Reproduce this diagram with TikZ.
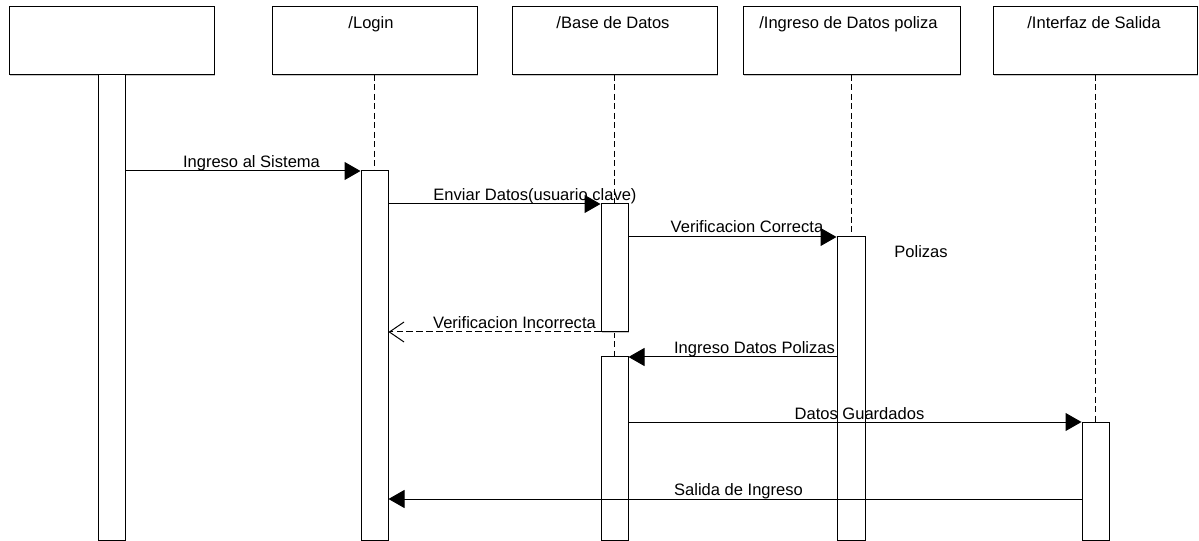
\documentclass[tikz,border=0pt]{standalone}
\usepackage{fontspec}
\setmainfont{Liberation Sans}
\usetikzlibrary{arrows.meta,fit,shadows}

\begin{document}
\begin{tikzpicture}[x=0.75pt, y=-0.75pt,
  font=\fontsize{12.4pt}{14pt}\selectfont,
  shade/.style={general shadow={fill=black!22, shadow xshift=1.1pt, shadow yshift=-1.1pt}},
  headbox/.style={draw, line width=0.75pt, fill=white, inner sep=0pt, shade},
  actbar/.style={draw, line width=0.75pt, fill=white, inner sep=0pt, shade},
  life/.style={line width=0.75pt, dash pattern=on 4.5pt off 2.6pt},
  msg/.style={line width=0.75pt, -{Triangle[length=12pt, width=13.5pt]}},
  reply/.style={line width=0.75pt, dash pattern=on 5pt off 2.4pt,
                -{Straight Barb[length=11pt, width=15pt, line width=0.75pt]}},
  lbl/.style={anchor=base, inner sep=0pt}
]
\useasboundingbox (0,0) rectangle (1199,541);
\clip (0,0) rectangle (1199,541);
\fill[white] (0,0) rectangle (1199,541);

% participant boxes
\node[headbox, fit={(9,7) (214,75)}] (h1) {};
\node[headbox, fit={(272,7) (477,75)}] (h2) {};
\node[headbox, fit={(512,7) (717,75)}] (h3) {};
\node[headbox, fit={(743,7) (960,75)}] (h4) {};
\node[headbox, fit={(993,7) (1197,75)}] (h5) {};

\node[lbl] (t2) at (371,29) {/Login};
\node[lbl] (t3) at (613,29) {/Base de Datos};
\node[lbl] (t4) at (848.5,29) {/Ingreso de Datos poliza};
\node[lbl] (t5) at (1094,29) {/Interfaz de Salida};

% lifelines
\coordinate (l2) at (374.5,75);
\coordinate (l3) at (614.5,75);
\coordinate (l4) at (851,75);
\coordinate (l5) at (1095.5,75);
\draw[life] (l2) -- (374.5,171);
\draw[life] (l3) -- (614.5,204);
\draw[life] (614.5,332) -- (614.5,357);
\draw[life] (l4) -- (851,237);
\draw[life] (l5) -- (1095.5,422);

% activation bars
\node[actbar, fit={(98,75) (125,540)}] (b1) {};
\node[actbar, fit={(361,171) (388,540)}] (b2) {};
\node[actbar, fit={(601,204) (628,332)}] (b3a) {};
\node[actbar, fit={(601,357) (628,540)}] (b3b) {};
\node[actbar, fit={(837,237) (865,540)}] (b4) {};
\node[actbar, fit={(1082,422) (1109,540)}] (b5) {};

% message rows
\coordinate (m1) at (0,171);
\coordinate (m2) at (0,204);
\coordinate (m3) at (0,237);
\coordinate (m4) at (0,332);
\coordinate (m5) at (0,357);
\coordinate (m6) at (0,422);
\coordinate (m7) at (0,499);

\draw[msg] (b1.east |- m1) -- (b2.west |- m1);
\node[lbl] (k1) at (251.5,167.5) {Ingreso al Sistema};

\node[lbl] (k2) at (535,200.5) {Enviar Datos(usuario clave)};
\draw[msg] (b2.east |- m2) -- (b3a.west |- m2);

\node[lbl] (k3) at (747,233) {Verificacion Correcta};
\draw[msg] (b3a.east |- m3) -- (b4.west |- m3);

\draw[reply] (b3a.west |- m4) -- (b2.east |- m4);
\node[lbl] (k4) at (514.5,328.5) {Verificacion Incorrecta};

\draw[msg] (b4.west |- m5) -- (b3b.east |- m5);
\node[lbl] (k5) at (754.5,353.5) {Ingreso Datos Polizas};

\node[lbl] (k6) at (859.5,419) {Datos Guardados};
\draw[msg] (b3b.east |- m6) -- (b5.west |- m6);

\draw[msg] (b5.west |- m7) -- (b2.east |- m7);
\node[lbl] (k7) at (738.5,495) {Salida de Ingreso};

% free note
\node[lbl] (note) at (921,258) {Polizas};
\end{tikzpicture}
\end{document}
